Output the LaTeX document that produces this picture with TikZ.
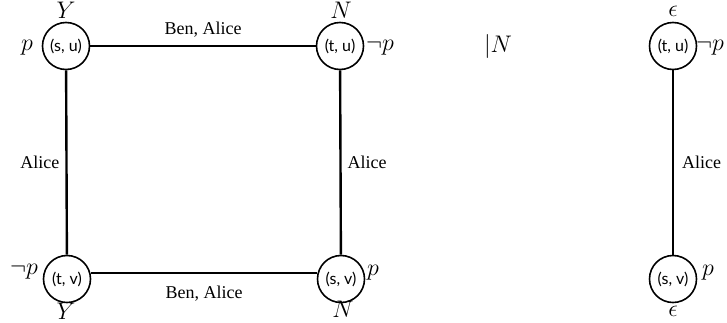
\documentclass[tikz,border=0pt]{standalone}
\usepackage{fontspec}
\setmainfont{Liberation Serif}
\newfontfamily\circfont{Lato}
\begin{document}
\begin{tikzpicture}[x=0.5pt,y=-0.5pt]
\tikzset{
  st/.style={circle, draw, line width=0.8pt, minimum size=23.5pt, inner sep=0pt,
    font=\circfont\fontsize{8}{9}\selectfont},
  edge/.style={line width=1.2pt},
  lab/.style={font=\fontsize{11.5}{13}\selectfont, inner sep=0pt, anchor=base},
  elab/.style={font=\fontsize{9}{11}\selectfont, inner sep=0pt}
}
\useasboundingbox (0,0) rectangle (727,322);
% states
\node[st] (su)  at (66,46)   {(s, u)};
\node[st] (tu)  at (340,46)  {(t, u)};
\node[st] (tv)  at (67,279)  {(t, v)};
\node[st] (sv)  at (341,279) {(s, v)};
\node[st] (tu2) at (673,46)  {(t, u)};
\node[st] (sv2) at (673,279) {(s, v)};
% edges
\draw[edge] (su) -- node[elab, midway, above=4pt] {Ben, Alice} (tu);
\draw[edge] (su) -- node[elab, midway, left=3pt] {Alice} (tv);
\draw[edge] (tu) -- node[elab, midway, right=3pt] {Alice} (sv);
\draw[edge] ([yshift=3pt]tv.east) -- node[elab, midway, below=6pt] {Ben, Alice} ([yshift=3pt]sv.west);
\draw[edge] (tu2) -- node[elab, midway, right=4pt] {Alice} (sv2);
% labels
\node[lab] (lsuY) at (66,18)  {$Y$};
\node[lab] (lsup) at (27,50)  {$p$};
\node[lab] (ltuN) at (341,18) {$N$};
\node[lab] (ltup) at (380,50) {$\neg p$};
\node[lab] (lbarN) at (498,52) {$|N$};
\node[lab] (ltu2e) at (673,16) {$\epsilon$};
\node[lab] (ltu2p) at (710,50) {$\neg p$};
\node[lab] (ltvp) at (24,274) {$\neg p$};
\node[lab] (ltvY) at (66,319) {$Y$};
\node[lab] (lsvp) at (373,275) {$p$};
\node[lab] (lsvN) at (343,317) {$N$};
\node[lab] (lsv2e) at (673,316) {$\epsilon$};
\node[lab] (lsv2p) at (708,275) {$p$};
\end{tikzpicture}
\end{document}
